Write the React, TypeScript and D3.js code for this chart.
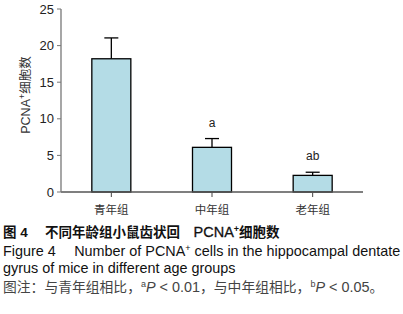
import React from "react";
import * as d3 from "d3";

const categories = ["青年组", "中年组", "老年组"];
const means = [18.2, 6.1, 2.27];
const errors = [2.85, 1.2, 0.43];
const marks = ["", "a", "ab"];
const yTicks = [0, 5, 10, 15, 20, 25];

const W = 403;
const H = 314;
const CJK = "'Liberation Sans', Arial, 'Noto Sans CJK SC', sans-serif";

export default function App() {
  const x = d3.scaleBand<string>().domain(categories).range([61, 363]).padding(0);
  const y = d3.scaleLinear().domain([0, 25]).range([192, 9]);
  const bw = 39;
  const cap = 14;
  return (
    <svg
      width={W}
      height={H}
      style={{ position: "absolute", left: 0, top: 0, background: "#fff" }}
      fontFamily={CJK}
    >
      {categories.map((c, i) => {
        const cx = (x(c) as number) + x.bandwidth() / 2;
        const top = y(means[i]);
        const et = y(means[i] + errors[i]);
        return (
          <g key={c}>
            <line x1={cx} x2={cx} y1={top} y2={et} stroke="#000" strokeWidth={1.3} />
            <line x1={cx - cap / 2} x2={cx + cap / 2} y1={et} y2={et} stroke="#000" strokeWidth={1.3} />
            <rect
              x={cx - bw / 2}
              y={top}
              width={bw}
              height={y(0) - top}
              fill="#b4dce6"
              stroke="#000"
              strokeWidth={1.3}
            />
            {marks[i] && (
              <text x={cx} y={et - 12} textAnchor="middle" fontSize={12} fill="#222">
                {marks[i]}
              </text>
            )}
            <line x1={cx} x2={cx} y1={192} y2={197} stroke="#444" strokeWidth={1} />
            <text x={cx} y={213.5} textAnchor="middle" fontSize={11.5} fill="#333">
              {c}
            </text>
          </g>
        );
      })}
      <line x1={61} x2={363} y1={192} y2={192} stroke="#555" strokeWidth={1.3} />
      <line x1={61} x2={61} y1={9} y2={192} stroke="#777" strokeWidth={1.3} />
      {yTicks.map((t) => (
        <g key={t}>
          <line x1={57} x2={61} y1={y(t)} y2={y(t)} stroke="#777" strokeWidth={1} />
          <text x={54} y={y(t) + 4.5} textAnchor="end" fontSize={13} fill="#222">
            {t}
          </text>
        </g>
      ))}
      <text
        transform="translate(30,95) rotate(-90)"
        textAnchor="middle"
        fontSize={12.5}
        fill="#333"
      >
        PCNA<tspan dy={-5} fontSize={9}>+</tspan>
        <tspan dy={5}>细胞数</tspan>
      </text>
      <text x={3} y={237} fontSize={13.5} fill="#111" fontWeight="bold">
        图 4　 不同年龄组小鼠齿状回　<tspan fontSize={14.5} fontWeight="normal" stroke="#111" strokeWidth={0.3}>PCNA</tspan>
        <tspan dy={-5} fontSize={9}>+</tspan>
        <tspan dy={5}>细胞数</tspan>
      </text>
      <text x={3} y={256} fontSize={14.4} fill="#111">
        Figure 4　 Number of PCNA<tspan dy={-5} fontSize={9}>+</tspan>
        <tspan dy={5}> cells in the hippocampal dentate</tspan>
      </text>
      <text x={3} y={272.5} fontSize={14.4} fill="#111">
        gyrus of mice in different age groups
      </text>
      <text x={3} y={292} fontSize={13.8} fill="#444">
        图注：与青年组相比，<tspan dy={-5} fontSize={9}>a</tspan>
        <tspan dy={5} fontStyle="italic" fontSize={14.4}>P</tspan>
        <tspan fontSize={14.4}> &lt; 0.01</tspan>，与中年组相比，
        <tspan dy={-5} fontSize={9}>b</tspan>
        <tspan dy={5} fontStyle="italic" fontSize={14.4}>P</tspan>
        <tspan fontSize={14.4}> &lt; 0.05</tspan>。
      </text>
    </svg>
  );
}
